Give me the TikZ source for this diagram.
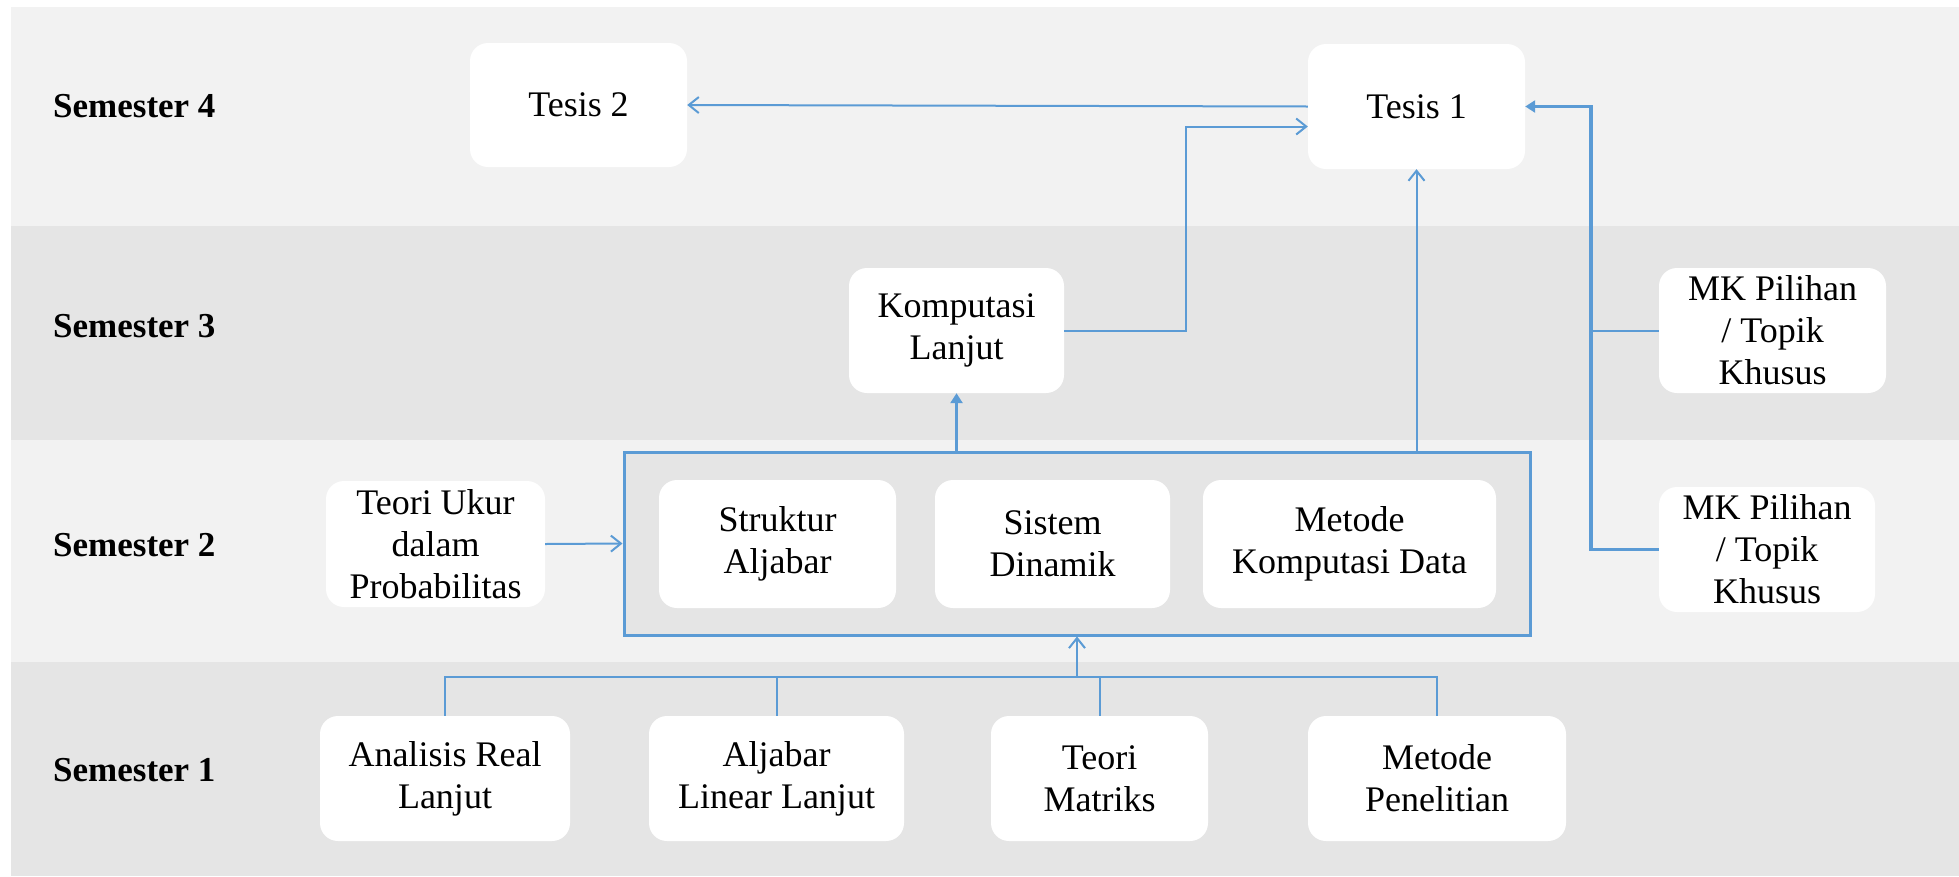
\documentclass[tikz,border=0pt]{standalone}
\usepackage{fontspec}
\setmainfont{Liberation Serif}
\usetikzlibrary{arrows.meta,calc}
\definecolor{bandA}{HTML}{F2F2F2}
\definecolor{bandB}{HTML}{E5E5E5}
\definecolor{lineblue}{HTML}{5B9BD5}
\begin{document}
\begin{tikzpicture}[x=1pt,y=-1pt,
  course/.style={fill=white, rounded corners=18pt, align=center, inner sep=0pt,
    font=\fontsize{36}{42}\selectfont},
  semlabel/.style={anchor=west, inner sep=0pt, font=\fontsize{35}{42}\selectfont\bfseries},
  thinline/.style={draw=lineblue, line width=2pt},
  thinarrow/.style={thinline, -{Straight Barb[length=10pt,width=16pt,line width=2pt]}},
  thickline/.style={draw=lineblue, line width=3.5pt},
  thickarrow/.style={thickline, -{Triangle[length=10pt,width=12pt]}},
  groupbox/.style={draw=lineblue, line width=3pt, fill=bandB, inner sep=0pt}
]
\useasboundingbox (0,0) rectangle (1959,876);
\fill[white] (0,0) rectangle (1959,876);
\fill[bandA] (11,7) rectangle (1959,226);
\fill[bandB] (11,226) rectangle (1959,440);
\fill[bandA] (11,440) rectangle (1959,662);
\fill[bandB] (11,662) rectangle (1959,876);

% semester labels
\node[semlabel] (s4) at (53,106) {Semester 4};
\node[semlabel] (s3) at (53,326.5) {Semester 3};
\node[semlabel] (s2) at (53,545) {Semester 2};
\node[semlabel] (s1) at (53,770) {Semester 1};

% semester 4
\node[course, minimum width=217pt, minimum height=124pt] (t2) at (578.5,105) {Tesis 2};
\node[course, minimum width=217pt, minimum height=125pt] (t1) at (1416.5,106.5) {Tesis 1};

% semester 3
\node[course, minimum width=215pt, minimum height=125pt] (kl) at (956.5,330.5) {Komputasi\\Lanjut};
\node[course, minimum width=227pt, minimum height=125pt] (mk1) at (1772.5,330.5) {MK Pilihan\\/ Topik\\Khusus};

% semester 2
\node[groupbox, minimum width=906pt, minimum height=183pt] (big) at (1077,543.5) {};
\node[course, minimum width=237pt, minimum height=128pt] (sa) at (777.5,544) {Struktur\\Aljabar};
\node[course, minimum width=235pt, minimum height=128pt] (sd) at (1052.5,544) {Sistem\\Dinamik};
\node[course, minimum width=293pt, minimum height=128pt] (mkd) at (1349.5,544) {Metode\\Komputasi Data};
\node[course, minimum width=219pt, minimum height=126pt] (tu) at (435.5,544) {Teori Ukur\\dalam\\Probabilitas};
\node[course, minimum width=216pt, minimum height=125pt] (mk2) at (1767,549.5) {MK Pilihan\\/ Topik\\Khusus};

% semester 1
\node[course, minimum width=250pt, minimum height=125pt] (ar) at (445,778.5) {Analisis Real\\Lanjut};
\node[course, minimum width=255pt, minimum height=125pt] (al) at (776.5,778.5) {Aljabar\\Linear Lanjut};
\node[course, minimum width=217pt, minimum height=125pt] (tm) at (1099.5,778.5) {Teori\\Matriks};
\node[course, minimum width=258pt, minimum height=125pt] (mp) at (1437,778.5) {Metode\\Penelitian};

% helper coordinates
\coordinate (bus) at (0,677);
\coordinate (vx) at (1591,0);
\coordinate (kx) at (1186,0);

% connectors
\draw[thinarrow] (t1.west) -- (t2.east);
\draw[thinarrow] (kl.east) -- (kl.east -| kx) |- ([yshift=-20pt]t1.west);
\draw[thinarrow] (t1.south |- big.north) -- (t1.south);
\draw[thickarrow] (kl.south |- big.north) -- (kl.south);
\draw[thinarrow] (tu.east) -- (big.west);

\draw[thinline] (ar.north) -- (ar.north |- bus) -- (mp.north |- bus) -- (mp.north);
\draw[thinline] (al.north) -- (al.north |- bus);
\draw[thinline] (tm.north) -- (tm.north |- bus);
\draw[thinarrow] (big.south |- bus) -- (big.south);

\draw[thickarrow] (mk2.west) -- (mk2.west -| vx) |- (t1.east);
\draw[thinline] (mk1.west) -- (mk1.west -| vx);
\end{tikzpicture}
\end{document}
